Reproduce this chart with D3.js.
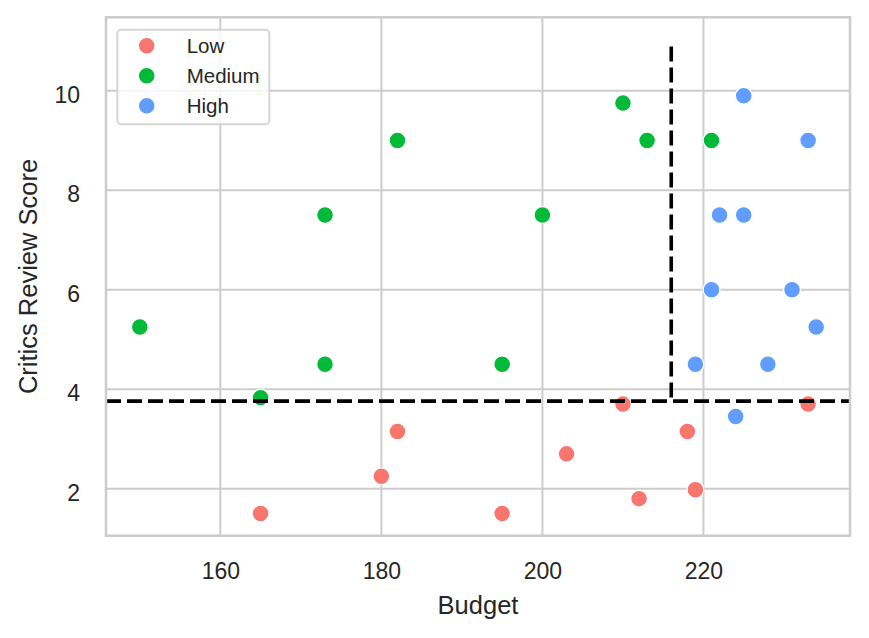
<!DOCTYPE html>
<html>
<head>
<meta charset="utf-8">
<script src="https://cdn.jsdelivr.net/npm/d3@7"></script>
<style>
	body { margin: 0; background: #fff; }
	text { font-family: "Liberation Sans", Arial, sans-serif; fill: #262626; }
</style>
</head>
<body>
<svg id="chart" width="869" height="638"></svg>
<script>
// values
var groups = ["Low", "Medium", "High"];
var groupColors = ["#F8766D", "#00BA38", "#619CFF"];

var lowBudget = [165, 180, 182, 195, 203, 210, 212, 218, 219, 233];
var lowScore = [1.5, 2.25, 3.15, 1.5, 2.7, 3.7, 1.8, 3.15, 1.98, 3.7];

var mediumBudget = [150, 165, 173, 173, 182, 195, 200, 210, 213, 221];
var mediumScore = [5.25, 3.83, 7.5, 4.5, 9.0, 4.5, 7.5, 9.75, 9.0, 9.0];

var highBudget = [219, 221, 222, 224, 225, 225, 228, 231, 233, 234];
var highScore = [4.5, 6.0, 7.5, 3.45, 9.9, 7.5, 4.5, 6.0, 9.0, 5.25];

var xTicks = [160, 180, 200, 220];
var yTicks = [2, 4, 6, 8, 10];

// threshold lines
var budgetCut = 216;
var scoreCut = 3.76;
var cutTop = 10.89;

var svg = d3.select("#chart");

var plot = { left: 106, right: 850, top: 17.3, bottom: 535.7 };

var x = d3.scaleLinear()
	.domain([145.8, 238.2])
	.range([plot.left, plot.right]);
var y = d3.scaleLinear()
	.domain([1.055, 11.475])
	.range([plot.bottom, plot.top]);

// grid
var grid = svg.append("g").attr("class", "grid");
grid.selectAll(".vgrid")
	.data(xTicks)
	.enter()
	.append("line")
	.attr("x1", function(d){ return x(d); })
	.attr("x2", function(d){ return x(d); })
	.attr("y1", plot.top)
	.attr("y2", plot.bottom)
	.style("stroke", "#cccccc")
	.style("stroke-width", 2);
grid.selectAll(".hgrid")
	.data(yTicks)
	.enter()
	.append("line")
	.attr("x1", plot.left)
	.attr("x2", plot.right)
	.attr("y1", function(d){ return y(d); })
	.attr("y2", function(d){ return y(d); })
	.style("stroke", "#cccccc")
	.style("stroke-width", 2);

// axes (labels only, no tick marks, like seaborn whitegrid)
var xAxis = d3.axisBottom(x).tickValues(xTicks).tickSize(0).tickPadding(27);
var yAxis = d3.axisLeft(y).tickValues(yTicks).tickSize(0).tickPadding(26);

var gx = svg.append("g")
	.attr("transform", "translate(0," + plot.bottom + ")")
	.call(xAxis);
var gy = svg.append("g")
	.attr("transform", "translate(" + plot.left + ",0)")
	.call(yAxis);

[gx, gy].forEach(function(g){
	g.select(".domain").remove();
	g.selectAll("text")
		.style("font-size", "23px")
		.style("fill", "#262626")
		.style("font-family", '"Liberation Sans", Arial, sans-serif');
});
gx.selectAll("text").attr("dy", "0.71em");
gy.selectAll("text").attr("dy", "0.5em");

// points
var points = [];
[[lowBudget, lowScore], [mediumBudget, mediumScore], [highBudget, highScore]].forEach(function(s, gi){
	for(var i = 0; i < s[0].length; i++){
		points.push({ budget: s[0][i], score: s[1][i], group: gi });
	}
});

svg.append("g")
	.selectAll("circle")
	.data(points)
	.enter()
	.append("circle")
	.attr("cx", function(d){ return x(d.budget); })
	.attr("cy", function(d){ return y(d.score); })
	.attr("r", 8.4)
	.style("fill", function(d){ return groupColors[d.group]; })
	.style("stroke", "#ffffff")
	.style("stroke-width", 1.3);

// dashed threshold lines, drawn over the points
var dashed = svg.append("g")
	.style("fill", "none")
	.style("stroke", "#000")
	.style("stroke-width", 3.6)
	.style("stroke-dasharray", "15,6");
dashed.append("path")
	.attr("d", "M" + x.range()[0] + "," + y(scoreCut) + " L " + x.range()[1] + "," + y(scoreCut));
dashed.append("path")
	.attr("d", "M" + x(budgetCut) + "," + y(cutTop) + " L " + x(budgetCut) + "," + y(scoreCut));

// frame
svg.append("rect")
	.attr("x", plot.left)
	.attr("y", plot.top)
	.attr("width", plot.right - plot.left)
	.attr("height", plot.bottom - plot.top)
	.style("fill", "none")
	.style("stroke", "#cccccc")
	.style("stroke-width", 2.5);

// axis titles
svg.append("text")
	.attr("x", (plot.left + plot.right) / 2)
	.attr("y", 614)
	.attr("text-anchor", "middle")
	.style("font-size", "25.5px")
	.text("Budget");
svg.append("text")
	.attr("transform", "translate(37," + ((plot.top + plot.bottom) / 2) + ") rotate(-90)")
	.attr("text-anchor", "middle")
	.style("font-size", "25.5px")
	.text("Critics Review Score");

// legend
var legend = svg.append("g");
legend.append("rect")
	.attr("x", 117.3)
	.attr("y", 29.7)
	.attr("width", 152)
	.attr("height", 94.6)
	.attr("rx", 4)
	.style("fill", "#ffffff")
	.style("fill-opacity", 0.8)
	.style("stroke", "#cccccc")
	.style("stroke-opacity", 0.8)
	.style("stroke-width", 2);

var rows = legend.selectAll(".legend-row")
	.data(groups)
	.enter()
	.append("g")
	.attr("transform", function(d, i){ return "translate(0," + (45.7 + i * 30) + ")"; });
rows.append("circle")
	.attr("cx", 146.7)
	.attr("cy", 0)
	.attr("r", 8.4)
	.style("fill", function(d, i){ return groupColors[i]; })
	.style("stroke", "#ffffff")
	.style("stroke-width", 1.3);
rows.append("text")
	.attr("x", 186.7)
	.attr("y", 7.3)
	.style("font-size", "20.5px")
	.text(function(d){ return d; });
</script>
</body>
</html>
